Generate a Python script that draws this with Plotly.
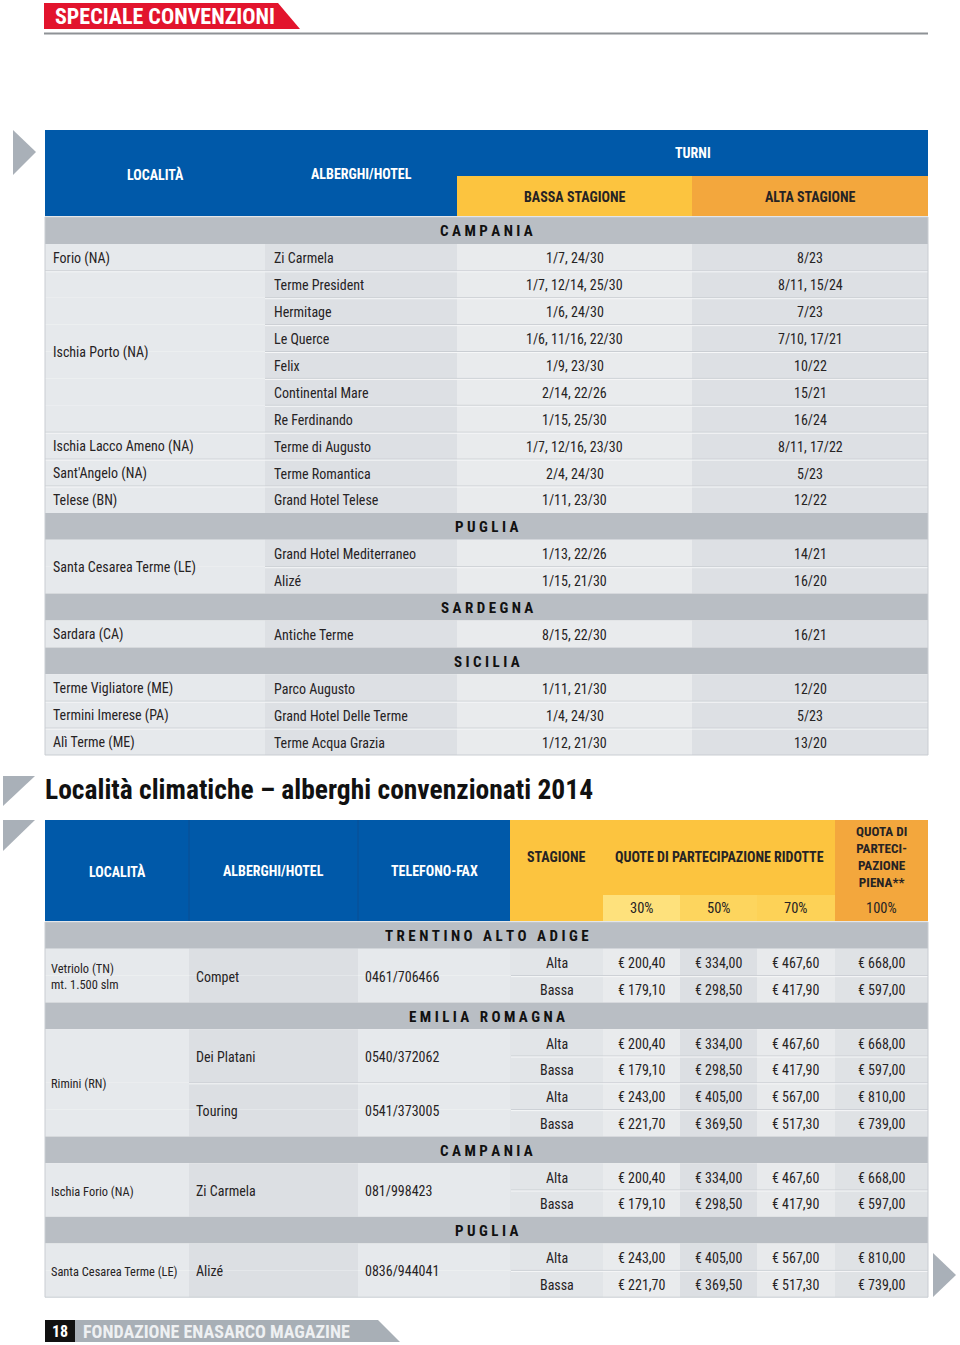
import plotly.graph_objects as go

FONT = "Liberation Sans Narrow, Arial Narrow, Roboto Condensed, DejaVu Sans Condensed, sans-serif"

# ---------------- data: table 1 (terme) ----------------
t1_header = ["LOCALITÀ", "ALBERGHI/HOTEL", "TURNI", "BASSA STAGIONE", "ALTA STAGIONE"]
t1_region = ["CAMPANIA"] * 10 + ["PUGLIA"] * 2 + ["SARDEGNA"] + ["SICILIA"] * 3
t1_localita = ["Forio (NA)", "Ischia Porto (NA)", "Ischia Porto (NA)", "Ischia Porto (NA)",
               "Ischia Porto (NA)", "Ischia Porto (NA)", "Ischia Porto (NA)",
               "Ischia Lacco Ameno (NA)", "Sant'Angelo (NA)", "Telese (BN)",
               "Santa Cesarea Terme (LE)", "Santa Cesarea Terme (LE)", "Sardara (CA)",
               "Terme Vigliatore (ME)", "Termini Imerese (PA)", "Alì Terme (ME)"]
t1_hotel = ["Zi Carmela", "Terme President", "Hermitage", "Le Querce", "Felix",
            "Continental Mare", "Re Ferdinando", "Terme di Augusto", "Terme Romantica",
            "Grand Hotel Telese", "Grand Hotel Mediterraneo", "Alizé", "Antiche Terme",
            "Parco Augusto", "Grand Hotel Delle Terme", "Terme Acqua Grazia"]
t1_bassa = ["1/7, 24/30", "1/7, 12/14, 25/30", "1/6, 24/30", "1/6, 11/16, 22/30", "1/9, 23/30",
            "2/14, 22/26", "1/15, 25/30", "1/7, 12/16, 23/30", "2/4, 24/30", "1/11, 23/30",
            "1/13, 22/26", "1/15, 21/30", "8/15, 22/30", "1/11, 21/30", "1/4, 24/30",
            "1/12, 21/30"]
t1_alta = ["8/23", "8/11, 15/24", "7/23", "7/10, 17/21", "10/22", "15/21", "16/24",
           "8/11, 17/22", "5/23", "12/22", "14/21", "16/20", "16/21", "12/20", "5/23", "13/20"]

# ---------------- data: table 2 (località climatiche) ----------------
t2_title = "Località climatiche – alberghi convenzionati 2014"
t2_header = ["LOCALITÀ", "ALBERGHI/HOTEL", "TELEFONO-FAX", "STAGIONE",
             "QUOTE DI PARTECIPAZIONE RIDOTTE", "QUOTA DI<br>PARTECI-<br>PAZIONE<br>PIENA**"]
t2_quote_labels = ["30%", "50%", "70%", "100%"]
t2_region = ["TRENTINO ALTO ADIGE", "EMILIA ROMAGNA", "EMILIA ROMAGNA", "CAMPANIA", "PUGLIA"]
t2_localita = ["Vetriolo (TN)<br>mt. 1.500 slm", "Rimini (RN)", "Rimini (RN)",
               "Ischia Forio (NA)", "Santa Cesarea Terme (LE)"]
t2_hotel = ["Compet", "Dei Platani", "Touring", "Zi Carmela", "Alizé"]
t2_tel = ["0461/706466", "0540/372062", "0541/373005", "081/998423", "0836/944041"]
t2_stagioni = ["Alta", "Bassa"]
t2_alta = [[200.40, 334.00, 467.60, 668.00],
           [200.40, 334.00, 467.60, 668.00],
           [243.00, 405.00, 567.00, 810.00],
           [200.40, 334.00, 467.60, 668.00],
           [243.00, 405.00, 567.00, 810.00]]
t2_bassa = [[179.10, 298.50, 417.90, 597.00],
            [179.10, 298.50, 417.90, 597.00],
            [221.70, 369.50, 517.30, 739.00],
            [179.10, 298.50, 417.90, 597.00],
            [221.70, 369.50, 517.30, 739.00]]

page_header = "SPECIALE CONVENZIONI"
page_number = "18"
page_footer = "FONDAZIONE ENASARCO MAGAZINE"

# ---------------- styles ----------------
BLUE = "#0059A9"
YELLOW = "#FCC43F"
ORANGE = "#F3A73D"
BAND = "#B9BEC4"
TXT = "#262324"
SEP_DARK = "#CACED3"
SEP_LIGHT = "#F6F7F8"
ARROW = "#A9B0B8"
DY = 1  # small baseline nudge for cell text

shapes = []
ann = []


def rect(x0, y0, x1, y1, fill, lw=0, lc=None):
    shapes.append(dict(type="rect", xref="x", yref="y", x0=x0, y0=y0, x1=x1, y1=y1,
                       fillcolor=fill, line=dict(width=lw, color=lc or fill), layer="below"))


def hline(x0, x1, y, color, w=1):
    shapes.append(dict(type="line", xref="x", yref="y", x0=x0, x1=x1, y0=y, y1=y,
                       line=dict(color=color, width=w), layer="below"))


def path(p, fill):
    shapes.append(dict(type="path", xref="x", yref="y", path=p, fillcolor=fill,
                       line=dict(width=0), layer="below"))


def text(x, y, s, size=14, color=TXT, bold=False, anchor="left", align="left"):
    ann.append(dict(x=x, y=y, xref="x", yref="y", text=("<b>%s</b>" % s) if bold else s,
                    showarrow=False, xanchor=anchor, yanchor="middle", align=align,
                    font=dict(family=FONT, size=size, color=color)))


def spaced(name):
    words = name.split(" ")
    return "\u00a0\u00a0\u00a0".join("\u00a0".join(list(w)) for w in words)


# ---------------- page header ----------------
path("M 44 3 L 278 3 L 300 29 L 44 29 Z", "#E2142D")
text(53, 16.5, page_header, size=22, color="white", bold=True)
hline(44, 928, 33.5, "#8E9296", 2)

# ---------------- table 1 ----------------
X1 = [45, 265, 457, 692, 928]
T1_HEAD_TOP, T1_HEAD_SPLIT, T1_TOP, H1 = 130, 176, 217, 26.9
C1 = ["#E6E9EC", "#DDE0E4", "#E9EBED", "#DDE0E4"]

path("M 13 130 L 36 152 L 13 175 Z", ARROW)
rect(X1[0], T1_HEAD_TOP, X1[4], T1_TOP - 1, BLUE)
rect(X1[2], T1_HEAD_SPLIT, X1[3], T1_TOP - 1, YELLOW)
rect(X1[3], T1_HEAD_SPLIT, X1[4], T1_TOP - 1, ORANGE)
text((X1[0] + X1[1]) / 2, 174, t1_header[0], 14, "white", True, "center")
text((X1[1] + X1[2]) / 2, 174, t1_header[1], 14, "white", True, "center")
text((X1[2] + X1[4]) / 2, 153, t1_header[2], 14, "white", True, "center")
text((X1[2] + X1[3]) / 2, 197, t1_header[3], 14, TXT, True, "center")
text((X1[3] + X1[4]) / 2, 197, t1_header[4], 14, TXT, True, "center")

rows1 = []
prev = None
for i, r in enumerate(t1_region):
    if r != prev:
        rows1.append(("band", r))
        prev = r
    rows1.append(("data", i))

row_y1 = {}
for k, (kind, v) in enumerate(rows1):
    y0 = T1_TOP + k * H1
    y1 = y0 + H1
    if kind == "band":
        rect(X1[0], y0, X1[4], y1, BAND)
        text((X1[0] + X1[4]) / 2, y0 + H1 / 2 + DY, spaced(v), 15, "#111111", True, "center")
    else:
        row_y1[v] = (y0, y1)
        for c in range(4):
            rect(X1[c], y0, X1[c + 1], y1, C1[c])
        if rows1[k - 1][0] == "data":
            same = t1_localita[v] == t1_localita[v - 1]
            xs = X1[1] if same else X1[0]
            hline(xs, X1[4], y0, SEP_DARK, 1)
            hline(xs, X1[4], y0 + 1, SEP_LIGHT, 1)
        ym = y0 + H1 / 2 + DY
        text(X1[1] + 7, ym, t1_hotel[v])
        text((X1[2] + X1[3]) / 2, ym, t1_bassa[v], anchor="center")
        text((X1[3] + X1[4]) / 2, ym, t1_alta[v], anchor="center")

# merged località cells
i = 0
while i < len(t1_localita):
    j = i
    while j + 1 < len(t1_localita) and t1_localita[j + 1] == t1_localita[i] \
            and t1_region[j + 1] == t1_region[i]:
        j += 1
    ym = (row_y1[i][0] + row_y1[j][1]) / 2 + DY
    text(X1[0] + 6, ym, t1_localita[i])
    i = j + 1

t1_bottom = T1_TOP + len(rows1) * H1
shapes.append(dict(type="rect", xref="x", yref="y", x0=X1[0], x1=X1[4], y0=T1_TOP,
                   y1=t1_bottom, line=dict(color="#C9CDD2", width=1), layer="below"))

# ---------------- title ----------------
path("M 3 776 L 35 776 L 3 806 Z", ARROW)
text(43, 789, t2_title, 27.5, "#111111", True)

# ---------------- table 2 ----------------
X2 = [45, 189, 358, 510, 603, 680, 757, 835, 928]
T2_HEAD_TOP, T2_HEAD_SPLIT, T2_TOP, H2 = 820, 895, 922, 26.8
C2 = ["#E6E9EC", "#DCDFE3", "#E6E9EC", "#E2E5E8", "#E9EBED", "#DCDFE3", "#E8EAEC", "#DFE2E5"]
SUB = ["#FEE17C", "#FDD55E", "#FDD257"]

path("M 3 820 L 35 820 L 3 851 Z", ARROW)
rect(X2[0], T2_HEAD_TOP, X2[3], T2_TOP - 1, BLUE)
rect(X2[3], T2_HEAD_TOP, X2[7], T2_TOP - 1, YELLOW)
rect(X2[7], T2_HEAD_TOP, X2[8], T2_TOP - 1, ORANGE)
for c in range(3):
    rect(X2[4 + c], T2_HEAD_SPLIT, X2[5 + c], T2_TOP - 1, SUB[c])
for c in (1, 2):
    shapes.append(dict(type="line", xref="x", yref="y", x0=X2[c], x1=X2[c], y0=T2_HEAD_TOP,
                       y1=T2_TOP - 1, line=dict(color="#0A4F92", width=1), layer="below"))
for c in range(3):
    text((X2[c] + X2[c + 1]) / 2, 871, t2_header[c], 14, "white", True, "center")
text((X2[3] + X2[4]) / 2, 857, t2_header[3], 14, TXT, True, "center")
text((X2[4] + X2[7]) / 2, 857, t2_header[4], 14, TXT, True, "center")
text((X2[7] + X2[8]) / 2, 857, t2_header[5], 13.2, TXT, True, "center", "center")
for c in range(4):
    text((X2[4 + c] + X2[5 + c]) / 2, 908, t2_quote_labels[c], 14.5, TXT, False, "center")

rows2 = []
prev = None
for j, r in enumerate(t2_region):
    if r != prev:
        rows2.append(("band", r, None))
        prev = r
    rows2.append(("data", j, 0))
    rows2.append(("data", j, 1))

hotel_y = {}
for k, (kind, v, s) in enumerate(rows2):
    y0 = T2_TOP + k * H2
    y1 = y0 + H2
    if kind == "band":
        rect(X2[0], y0, X2[8], y1, BAND)
        text((X2[0] + X2[8]) / 2, y0 + H2 / 2 + DY, spaced(v), 15, "#111111", True, "center")
        continue
    for c in range(8):
        rect(X2[c], y0, X2[c + 1], y1, C2[c])
    hotel_y.setdefault(v, [y0, y1])
    hotel_y[v][1] = y1
    if s == 1:
        hline(X2[3] + 1, X2[8], y0, SEP_DARK, 1)
        hline(X2[3] + 1, X2[8], y0 + 1, SEP_LIGHT, 1)
    elif rows2[k - 1][0] == "data":
        same = t2_localita[v] == t2_localita[v - 1]
        xs = X2[1] if same else X2[0]
        hline(xs, X2[8], y0, SEP_DARK, 1)
        hline(xs, X2[8], y0 + 1, SEP_LIGHT, 1)
    ym = y0 + H2 / 2 + DY
    vals = t2_alta[v] if s == 0 else t2_bassa[v]
    text((X2[3] + X2[4]) / 2, ym, t2_stagioni[s], anchor="center")
    for c in range(4):
        lab = "€ " + ("%.2f" % vals[c]).replace(".", ",")
        text((X2[4 + c] + X2[5 + c]) / 2, ym, lab, anchor="center")

for j in range(len(t2_hotel)):
    ym = (hotel_y[j][0] + hotel_y[j][1]) / 2 + DY
    text(X2[1] + 5, ym, t2_hotel[j])
    text(X2[2] + 5, ym, t2_tel[j])

j = 0
while j < len(t2_localita):
    e = j
    while e + 1 < len(t2_localita) and t2_localita[e + 1] == t2_localita[j]:
        e += 1
    ym = (hotel_y[j][0] + hotel_y[e][1]) / 2 + DY
    text(X2[0] + 4, ym, t2_localita[j], 12.4)
    j = e + 1

t2_bottom = T2_TOP + len(rows2) * H2
shapes.append(dict(type="rect", xref="x", yref="y", x0=X2[0], x1=X2[8], y0=T2_TOP,
                   y1=t2_bottom, line=dict(color="#C9CDD2", width=1), layer="below"))
path("M 933 1253 L 956 1275 L 933 1297 Z", ARROW)

# ---------------- footer ----------------
rect(45, 1320, 75, 1342, "#111111")
path("M 75 1320 L 378 1320 L 400 1342 L 75 1342 Z", "#A8AFB6")
text(60, 1331.5, page_number, 16, "white", True, "center")
text(81, 1331.5, page_footer, 18, "#EEF0F2", True)

fig = go.Figure()
fig.update_layout(
    width=960, height=1345, margin=dict(l=0, r=0, t=0, b=0),
    paper_bgcolor="white", plot_bgcolor="white", showlegend=False,
    xaxis=dict(range=[0, 960], visible=False, fixedrange=True),
    yaxis=dict(range=[1345, 0], visible=False, fixedrange=True),
    shapes=shapes, annotations=ann,
)
fig.write_html("out.html",
               config={"displayModeBar": False},
               post_script="document.body.style.margin='0';document.body.style.overflow='hidden';")
